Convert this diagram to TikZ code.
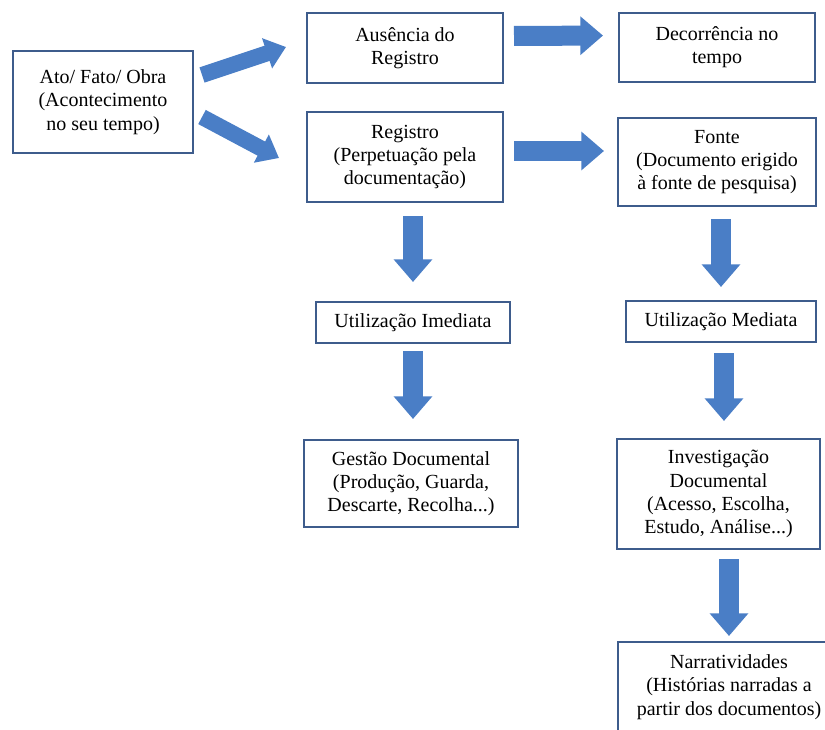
\documentclass[tikz,border=0pt]{standalone}
\usepackage{fontspec}
\setmainfont{Liberation Serif}
\usetikzlibrary{arrows.meta}

\definecolor{arrowblue}{RGB}{74,126,198}
\definecolor{boxline}{RGB}{62,92,140}

\begin{document}
\begin{tikzpicture}[
    x=0.75pt, y=-0.75pt,
    every node/.style={font=\fontsize{15}{17.4}\selectfont},
    box/.style={draw=boxline, line width=1.5pt, fill=white, align=center, inner sep=0pt},
    fat/.style={draw=arrowblue, line width=15pt, -{Triangle[length=17pt,width=28pt]}},
    slim/.style={draw=arrowblue, line width=12pt, -{Triangle[length=15pt,width=23pt]}}
]
\useasboundingbox (0,0) rectangle (825,729);
\clip (0,0) rectangle (825,729);

% Starting point
\node[box, minimum width=135pt, minimum height=76.5pt] (ato) at (103,102)
    {Ato/ Fato/ Obra\\(Acontecimento\\no seu tempo)};

% Upper branch
\node[box, minimum width=147pt, minimum height=52.5pt] (aus) at (405,48)
    {Ausência do\\Registro};
\node[box, minimum width=147pt, minimum height=52pt] (dec) at (717,47.5)
    {Decorrência no\\tempo};

% Middle branch
\node[box, minimum width=147pt, minimum height=67.5pt] (reg) at (405,157)
    {Registro\\(Perpetuação pela\\documentação)};
\node[box, minimum width=148.5pt, minimum height=66pt] (fon) at (717,162)
    {Fonte\\(Documento erigido\\à fonte de pesquisa)};

% Left column
\node[box, minimum width=145.5pt, minimum height=30.75pt] (ime) at (413,322.5)
    {Utilização Imediata};
\node[box, minimum width=160.5pt, minimum height=65.25pt] (ges) at (411,483.5)
    {Gestão Documental\\(Produção, Guarda,\\Descarte, Recolha...)};

% Right column
\node[box, minimum width=142.5pt, minimum height=30.75pt] (med) at (721,321.5)
    {Utilização Mediata};
\node[box, minimum width=152.25pt, minimum height=82.5pt] (inv) at (718.5,494)
    {Investigação\\Documental\\(Acesso, Escolha,\\Estudo, Análise...)};
\node[box, minimum width=166.5pt, minimum height=67.5pt] (nar) at (729,687)
    {Narratividades\\(Histórias narradas a\\partir dos documentos)};

% Arrows
\draw[slim] ([shift={(8,-27)}]ato.east) -- ([shift={(-20,-1)}]aus.west);
\draw[slim] ([shift={(8,15)}]ato.east) -- ([shift={(-27,1)}]reg.west);
\draw[fat, shorten <=7.5pt, shorten >=11.25pt] ([yshift=9pt]aus.east) -- ([yshift=9pt]dec.west);
\draw[fat, shorten <=7.5pt, shorten >=9.75pt] ([yshift=4.5pt]reg.east) -- ([yshift=8.25pt]fon.west);
\draw[fat, shorten <=9.75pt, shorten >=14.25pt] (ime.north |- reg.south) -- (ime.north);
\draw[fat, shorten <=5.25pt, shorten >=15pt] (ime.south) -- (ime.south |- ges.north);
\draw[fat, shorten <=9pt, shorten >=9.75pt] (med.north |- fon.south) -- (med.north);
\draw[fat, shorten <=7.5pt, shorten >=12.75pt] ([xshift=2.25pt]med.south) -- ([xshift=2.25pt]med.south |- inv.north);
\draw[fat, shorten <=6.75pt, shorten >=3.75pt] (nar.north |- inv.south) -- (nar.north);

\end{tikzpicture}
\end{document}
